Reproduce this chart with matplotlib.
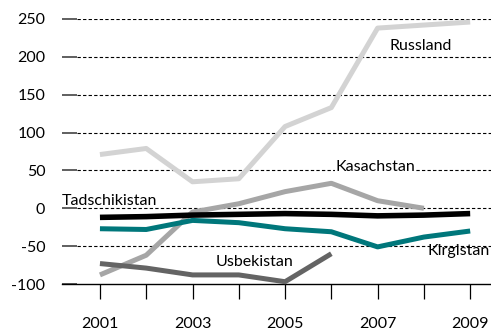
import matplotlib
matplotlib.use("Agg")
import matplotlib.pyplot as plt
from matplotlib.ticker import FixedLocator

plt.rcParams['font.family'] = ['Lato', 'DejaVu Sans']

years = [2001, 2002, 2003, 2004, 2005, 2006, 2007, 2008, 2009]
russland = [71, 79, 35, 39, 108, 133, 238, 242, 246]
kasachstan = [-88, -62, -5, 6, 22, 33, 10, 0]
tadschikistan = [-12, -11, -9, -8, -7, -8, -10, -9, -7]
kirgistan = [-27, -28, -16, -19, -27, -31, -51, -38, -30]
usbekistan = [-73, -79, -88, -88, -97, -60]

yticks = [-100, -50, 0, 50, 100, 150, 200, 250]
xlabels = [2001, 2003, 2005, 2007, 2009]

fig = plt.figure(figsize=(4.91, 3.34), dpi=100)
ax = fig.add_axes([62/491, 50/334, 1 - 62/491, 265/334])

ax.set_xlim(2000.18, 2009.45)
ax.set_ylim(-100, 250)

for y in yticks[1:]:
    ax.axhline(y, xmin=0.035, color='black', lw=0.8, ls=(0, (3, 2)), zorder=1)

lw = 3.6
ax.plot(years, russland, color='#d3d3d3', lw=lw, solid_capstyle='butt', zorder=3, clip_on=False)
ax.plot(years[:len(kasachstan)], kasachstan, color='#a6a6a6', lw=lw, solid_capstyle='butt', zorder=3)
ax.plot(years, kirgistan, color='#00777b', lw=lw, solid_capstyle='butt', zorder=4)
ax.plot(years[:len(usbekistan)], usbekistan, color='#646464', lw=lw, solid_capstyle='butt', zorder=3, clip_on=False)
ax.plot(years, tadschikistan, color='black', lw=4.0, solid_capstyle='butt', zorder=5)

fs = 11.5
ax.text(2007.92, 215, 'Russland', fontsize=fs, ha='center', va='center', zorder=6)
ax.text(2006.95, 55, 'Kasachstan', fontsize=fs, ha='center', va='center', zorder=6,
        bbox=dict(facecolor='white', edgecolor='none', pad=0.5))
ax.text(2000.18, 10, 'Tadschikistan', fontsize=fs, ha='left', va='center', zorder=6)
ax.text(2004.35, -71, 'Usbekistan', fontsize=fs, ha='center', va='center', zorder=6)
ax.text(2009.43, -57, 'Kirgistan', fontsize=fs, ha='right', va='center', zorder=6)

for s in ['left', 'right', 'top']:
    ax.spines[s].set_visible(False)
ax.spines['bottom'].set_color('black')
ax.spines['bottom'].set_linewidth(1.0)

ax.yaxis.set_major_locator(FixedLocator(yticks))
ax.set_yticklabels([str(v) for v in yticks])
ax.tick_params(axis='y', direction='in', length=11, width=1.2, color='#444444',
               pad=12, labelsize=fs)

ax.xaxis.set_major_locator(FixedLocator(xlabels))
ax.xaxis.set_minor_locator(FixedLocator([2002, 2004, 2006, 2008]))
ax.set_xticklabels([str(v) for v in xlabels])
ax.tick_params(axis='x', which='both', direction='out', length=11, width=0.9,
               color='black', pad=13, labelsize=fs)

fig.savefig('out.png', dpi=100)
